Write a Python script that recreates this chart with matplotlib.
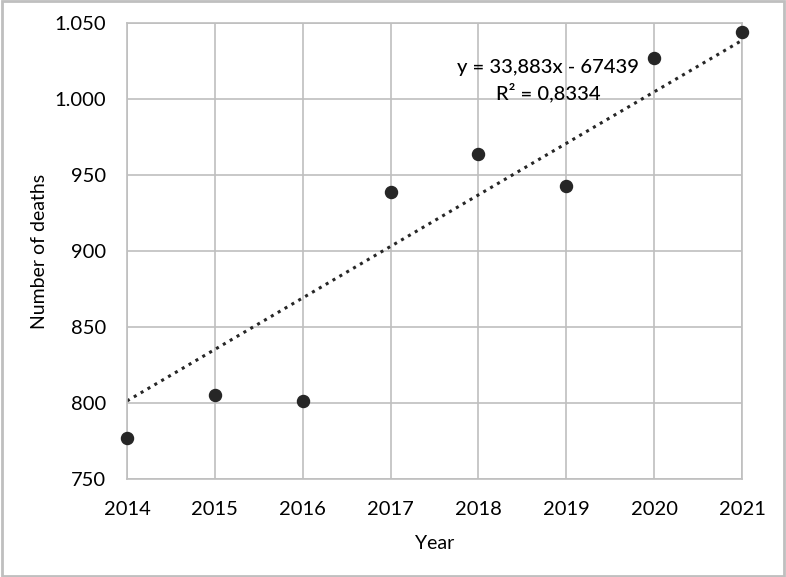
import matplotlib
matplotlib.use("Agg")
import matplotlib.pyplot as plt
from matplotlib.ticker import FuncFormatter

plt.rcParams['font.family'] = ['Lato', 'DejaVu Sans']

# data
years = [2014, 2015, 2016, 2017, 2018, 2019, 2020, 2021]
deaths = [777, 805, 801, 939, 964, 943, 1027, 1044]

# trendline as printed on the chart
slope = 33.883
intercept = -67439
r2 = 0.8334

fig = plt.figure(figsize=(7.86, 5.77), dpi=100)
ax = fig.add_axes([0.1616, 0.1698, 0.7825, 0.7905])

grid_c = '#bfbfbf'
dark = '#262626'

ax.set_xlim(2014, 2021)
ax.set_ylim(750, 1050)
ax.set_xticks(years)
ax.set_yticks(range(750, 1051, 50))
ax.grid(True, color=grid_c, lw=1.2)
ax.set_axisbelow(True)
for s in ax.spines.values():
    s.set_color(grid_c)
    s.set_linewidth(1.2)
ax.tick_params(length=0, labelsize=14.5, colors='black')
ax.tick_params(axis='x', pad=16)
ax.tick_params(axis='y', pad=15)
ax.yaxis.set_major_formatter(FuncFormatter(lambda v, p: f"{int(v):,}".replace(",", ".")))

tx = [years[0], years[-1]]
ty = [slope * x + intercept for x in tx]
ax.plot(tx, ty, linestyle=(0, (1, 1.6)), color=dark, lw=2.2, zorder=2)

ax.scatter(years, deaths, s=75, color=dark, zorder=3, clip_on=False)

ax.text(2018.79, 1020.5, f"y = {slope:.3f}x - {abs(intercept)}".replace(".", ","),
        ha='center', va='center', fontsize=14.5, fontweight='medium')
ax.text(2018.79, 1004.5, f"R² = {r2:.4f}".replace(".", ","),
        ha='center', va='center', fontsize=14.5, fontweight='medium')

ax.set_xlabel("Year", fontsize=14, labelpad=12)
ax.set_ylabel("Number of deaths", fontsize=14, labelpad=5)

fig.patches.append(plt.Rectangle((0.002, 0.002), 0.996, 0.996, transform=fig.transFigure,
                                 fill=False, edgecolor='#bfbfbf', lw=2))

fig.savefig("out.png", dpi=100)
